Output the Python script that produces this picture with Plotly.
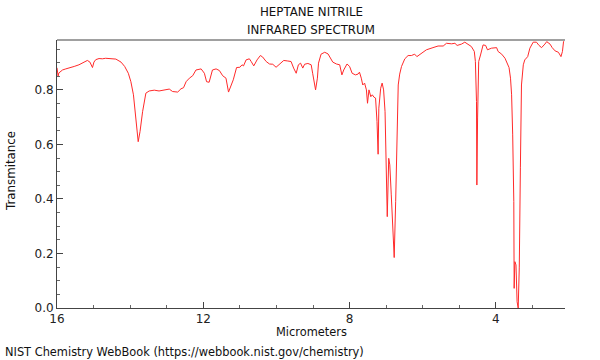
import plotly.graph_objects as go

wavelength_um = [16.00, 15.97, 15.95, 15.85, 15.76, 15.67, 15.53, 15.40, 15.26, 15.17,
                 15.10, 15.03, 14.99, 14.94, 14.85, 14.76, 14.67, 14.58, 14.48, 14.39,
                 14.25, 14.15, 14.05, 13.98, 13.91, 13.86, 13.82, 13.78, 13.73, 13.66,
                 13.57, 13.48, 13.34, 13.21, 12.93, 12.84, 12.70, 12.61, 12.54, 12.47,
                 12.38, 12.29, 12.20, 12.06, 11.97, 11.91, 11.84, 11.75, 11.65, 11.56,
                 11.47, 11.38, 11.31, 11.24, 11.18, 11.09, 11.00, 10.94, 10.90, 10.83,
                 10.74, 10.69, 10.62, 10.53, 10.44, 10.38, 10.28, 10.19, 10.10, 10.01,
                 9.92, 9.80, 9.69, 9.60, 9.53, 9.46, 9.40, 9.34, 9.28, 9.23,
                 9.14, 9.05, 9.01, 8.96, 8.93, 8.88, 8.85, 8.78, 8.68, 8.59,
                 8.52, 8.46, 8.36, 8.27, 8.21, 8.16, 8.07, 8.00, 7.93, 7.84,
                 7.77, 7.73, 7.68, 7.64, 7.59, 7.54, 7.51, 7.47, 7.42, 7.38,
                 7.33, 7.29, 7.25, 7.22, 7.20, 7.15, 7.11, 7.07, 7.03, 7.00,
                 6.97, 6.93, 6.90, 6.86, 6.81, 6.78, 6.74, 6.70, 6.67, 6.63,
                 6.58, 6.49, 6.40, 6.31, 6.22, 6.16, 6.06, 5.90, 5.72, 5.58,
                 5.44, 5.35, 5.21, 5.12, 5.06, 4.94, 4.85, 4.76, 4.67, 4.59,
                 4.56, 4.53, 4.52, 4.50, 4.47, 4.42, 4.35, 4.28, 4.23, 4.12,
                 3.98, 3.94, 3.84, 3.75, 3.71, 3.64, 3.60, 3.57, 3.54, 3.51,
                 3.50, 3.48, 3.45, 3.42, 3.39, 3.36, 3.33, 3.30, 3.25, 3.21,
                 3.13, 3.07, 2.98, 2.89, 2.82, 2.75, 2.66, 2.61, 2.52, 2.46,
                 2.38, 2.29, 2.22, 2.18, 2.15, 2.11]

transmittance = [0.881, 0.851, 0.862, 0.873, 0.877, 0.880, 0.886, 0.892, 0.902, 0.908,
                 0.902, 0.882, 0.902, 0.911, 0.915, 0.914, 0.916, 0.915, 0.916, 0.913,
                 0.902, 0.886, 0.861, 0.830, 0.782, 0.720, 0.647, 0.610, 0.647, 0.720,
                 0.788, 0.796, 0.799, 0.796, 0.803, 0.794, 0.792, 0.804, 0.808, 0.830,
                 0.843, 0.852, 0.873, 0.877, 0.861, 0.830, 0.828, 0.873, 0.877, 0.871,
                 0.852, 0.843, 0.792, 0.818, 0.837, 0.882, 0.883, 0.892, 0.888, 0.910,
                 0.914, 0.904, 0.888, 0.910, 0.926, 0.921, 0.904, 0.895, 0.894, 0.883,
                 0.894, 0.908, 0.906, 0.904, 0.880, 0.861, 0.892, 0.898, 0.880, 0.894,
                 0.897, 0.892, 0.861, 0.818, 0.800, 0.843, 0.898, 0.931, 0.938, 0.932,
                 0.914, 0.902, 0.895, 0.892, 0.855, 0.873, 0.895, 0.886, 0.861, 0.855,
                 0.858, 0.865, 0.843, 0.818, 0.825, 0.800, 0.751, 0.800, 0.775, 0.782,
                 0.773, 0.770, 0.684, 0.564, 0.733, 0.806, 0.825, 0.800, 0.720, 0.513,
                 0.335, 0.549, 0.525, 0.415, 0.268, 0.185, 0.390, 0.696, 0.818, 0.858,
                 0.886, 0.914, 0.926, 0.926, 0.931, 0.922, 0.931, 0.947, 0.955, 0.961,
                 0.961, 0.971, 0.969, 0.971, 0.963, 0.968, 0.975, 0.968, 0.959, 0.941,
                 0.904, 0.757, 0.451, 0.697, 0.904, 0.928, 0.965, 0.963, 0.947, 0.953,
                 0.955, 0.941, 0.931, 0.916, 0.904, 0.882, 0.843, 0.782, 0.635, 0.390,
                 0.072, 0.170, 0.158, 0.023, 0.000, 0.147, 0.514, 0.818, 0.892, 0.910,
                 0.922, 0.953, 0.975, 0.975, 0.963, 0.955, 0.968, 0.977, 0.968, 0.955,
                 0.943, 0.938, 0.922, 0.941, 0.977, 0.983]

x_ticks = [16, 12, 8, 4]
y_ticks = [0.0, 0.2, 0.4, 0.6, 0.8]
y_tick_labels = ["0.0", "0.2", "0.4", "0.6", "0.8"]

title_lines = ["HEPTANE NITRILE", "INFRARED SPECTRUM"]
x_title = "Micrometers"
y_title = "Transmitance"
footer = "NIST Chemistry WebBook (https://webbook.nist.gov/chemistry)"

FONT = "DejaVu Sans"

fig = go.Figure()
fig.add_trace(go.Scatter(x=wavelength_um, y=transmittance, mode="lines",
                         line=dict(color="#ff2a2a", width=1), showlegend=False,
                         hoverinfo="skip"))

W, H = 600, 360
# target plot box in screenshot pixels: left 57, right 565, top 40, bottom 308
L = 57
T = 40
R = W - 565
B = H - 308
pw = W - L - R
ph = H - T - B

fig.update_layout(
    width=W, height=H,
    margin=dict(l=L, r=R, t=T, b=B, pad=0),
    paper_bgcolor="white", plot_bgcolor="white",
    font=dict(family=FONT, size=12, color="#222"),
    xaxis=dict(range=[16.0, 2.11], tickvals=x_ticks, ticktext=[str(v) for v in x_ticks],
               ticks="inside", ticklen=6, tickwidth=1, tickcolor="#444",
               showline=True, linecolor="#444", linewidth=1,
               showgrid=False, zeroline=False, automargin=False,
               minor=dict(dtick=1, ticks="inside", ticklen=3, tickcolor="#666", showgrid=False),
               tickfont=dict(family=FONT, size=12, color="#222")),
    yaxis=dict(range=[0, 0.983], tickvals=y_ticks, ticktext=y_tick_labels,
               ticks="inside", ticklen=6, tickwidth=1, tickcolor="#444",
               showline=True, linecolor="#444", linewidth=1,
               showgrid=False, zeroline=False, automargin=False,
               minor=dict(dtick=0.05, ticks="inside", ticklen=3, tickcolor="#666", showgrid=False),
               tickfont=dict(family=FONT, size=12, color="#222")),
)

# top frame line
fig.add_shape(type="line", xref="paper", yref="paper", x0=0, x1=1, y0=1, y1=1,
              line=dict(color="#a0a0a0", width=2))

def px_x(px):
    return (px - L) / pw

def px_y(py):
    return (H - B - py) / ph

def label(text, x, y, xanchor="center", angle=0, size=12):
    fig.add_annotation(text=text, xref="paper", yref="paper",
                       x=px_x(x), y=px_y(y), xanchor=xanchor, yanchor="middle",
                       showarrow=False, textangle=angle,
                       font=dict(family=FONT, size=size, color="#111"))

label(title_lines[0], 311, 12, size=11.8)
label(title_lines[1], 311, 30, size=11.8)
label(x_title, 311, 332, size=11.4)
label(y_title, 11, 171, angle=-90, size=11.8)
label(footer, 3, 352, xanchor="left", size=11.4)

fig.write_html("out.html", config={"displayModeBar": False},
               post_script="document.body.style.margin='0';")
